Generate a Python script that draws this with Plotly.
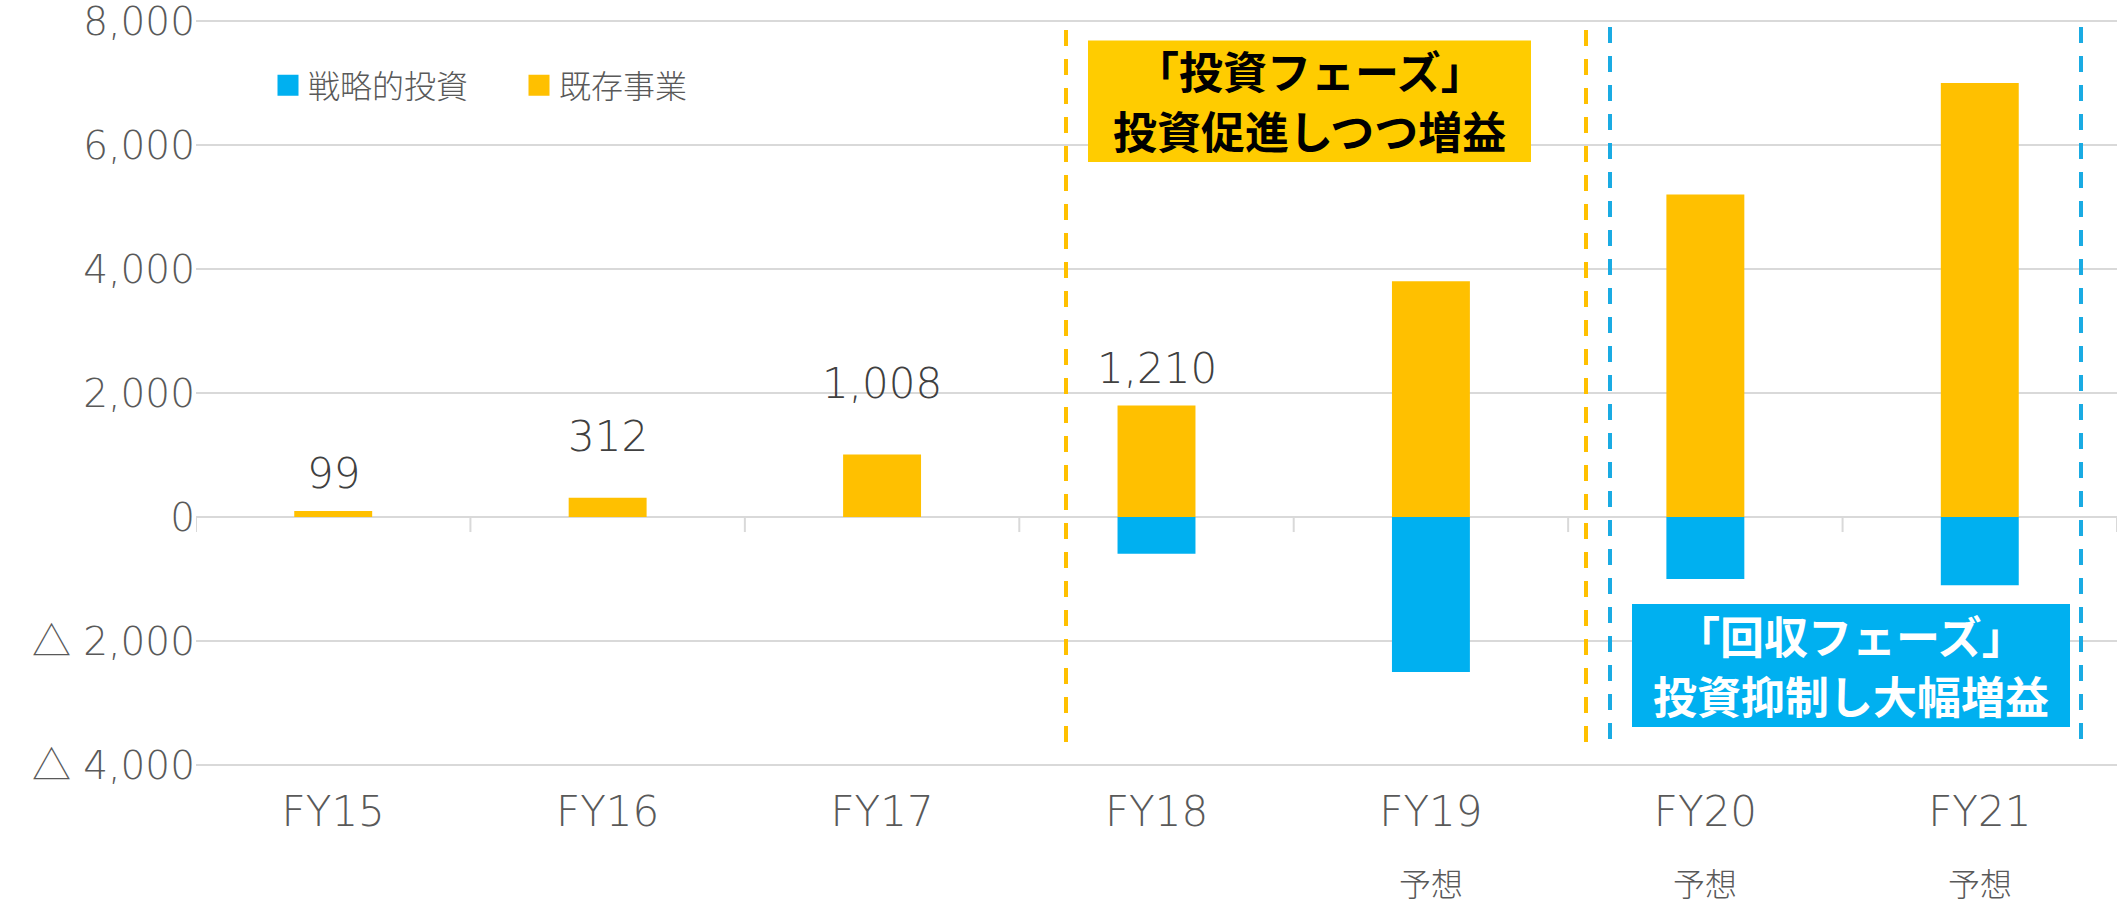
import plotly.graph_objects as go

# ---- data ----
categories = ["FY15", "FY16", "FY17", "FY18", "FY19", "FY20", "FY21"]
forecast_flags = ["", "", "", "", "予想", "予想", "予想"]
existing_business = [99, 312, 1008, 1800, 3800, 5200, 7000]      # 既存事業
strategic_investment = [0, 0, 0, -590, -2500, -1000, -1100]      # 戦略的投資
total_categories = ["FY15", "FY16", "FY17", "FY18"]
total_values = [99, 312, 1008, 1210]
total_texts = ["99", "312", "1,008", "1,210"]
y_tickvals = [-4000, -2000, 0, 2000, 4000, 6000, 8000]
y_ticktext = ["△ 4,000", "△ 2,000", "0", "2,000", "4,000", "6,000", "8,000"]
invest_phase_lines = ["「投資フェーズ」", "投資促進しつつ増益"]
recovery_phase_lines = ["「回収フェーズ」", "投資抑制し大幅増益"]

# ---- styling ----
W, H = 2119, 908
ML, MR, MT, MB = 196, 2, 19, 141
PW, PH = W - ML - MR, H - MT - MB
FONT = "DejaVu Sans, Noto Sans CJK JP"
CJK = "Noto Sans CJK JP"
ORANGE = "#FFC000"
BLUE = "#00B0F0"
BOX_YELLOW = "#FFCC00"
DASH_BLUE = "#1AABE3"
GRID = "#D9D9D9"
AXIS_TEXT = "#595959"
LABEL_TEXT = "#404040"
label_yshift = [37, 61, 71, 74]


def px_x(p):
    return (p - ML) / PW


def px_y(p):
    return (H - MB - p) / PH


fig = go.Figure()
fig.add_trace(go.Bar(
    name="戦略的投資", x=categories, y=strategic_investment, showlegend=False,
    legendgroup="inv", marker=dict(color=BLUE, line=dict(width=0)),
))
fig.add_trace(go.Bar(
    name="既存事業", x=categories, y=existing_business, showlegend=False,
    legendgroup="base", marker=dict(color=ORANGE, line=dict(width=0)),
))
# legend entries (larger square keys)
for nm, col, grp in [("戦略的投資", BLUE, "inv"), ("既存事業", ORANGE, "base")]:
    fig.add_trace(go.Scatter(
        name=nm, x=[None], y=[None], mode="markers", legendgroup=grp,
        marker=dict(symbol="square", size=16, color=col, line=dict(color=col, width=5)),
    ))

# total labels above bars
for c, v, t, s in zip(total_categories, total_values, total_texts, label_yshift):
    fig.add_annotation(x=c, y=v, xref="x", yref="y", text=t, showarrow=False,
                       yanchor="middle", yshift=s,
                       font=dict(family=FONT, size=42, color=LABEL_TEXT, weight=200))

# second line of category labels
for c, f in zip(categories, forecast_flags):
    if f:
        fig.add_annotation(x=c, y=px_y(906), xref="x", yref="paper", text=f, showarrow=False,
                           yanchor="bottom", borderpad=0,
                           font=dict(family=CJK, size=32, color=AXIS_TEXT, weight=300))

# category tick marks at the zero line
for i in range(len(categories) + 1):
    fig.add_shape(type="line", xref="x", yref="y", x0=i - 0.5, x1=i - 0.5,
                  ysizemode="pixel", yanchor=0, y0=0, y1=-15,
                  line=dict(color=GRID, width=2))

# dashed phase separators
for xp, y0p, y1p, col in [(1066, 30, 746, ORANGE), (1586, 30, 746, ORANGE),
                          (1610, 27, 743, DASH_BLUE), (2081, 27, 743, DASH_BLUE)]:
    fig.add_shape(type="line", xref="paper", yref="paper",
                  x0=px_x(xp), x1=px_x(xp), y0=px_y(y0p), y1=px_y(y1p),
                  line=dict(color=col, width=4, dash="16px,13px"))

# phase boxes
for (x0, x1, y0, y1, fill, lines, line_y, tcol) in [
    (1088, 1531, 40.5, 162, BOX_YELLOW, invest_phase_lines, [70, 130], "#000000"),
    (1632, 2070, 604, 727, BLUE, recovery_phase_lines, [635, 695], "#FFFFFF"),
]:
    fig.add_shape(type="rect", xref="paper", yref="paper",
                  x0=px_x(x0), x1=px_x(x1), y0=px_y(y1), y1=px_y(y0),
                  fillcolor=fill, line=dict(width=0), layer="above")
    for txt, ly in zip(lines, line_y):
        fig.add_annotation(xref="paper", yref="paper", x=px_x((x0 + x1) / 2), y=px_y(ly),
                           xanchor="center", yanchor="middle", showarrow=False, text=txt,
                           font=dict(family=CJK, size=44, color=tcol, weight="bold"))

fig.update_layout(
    width=W, height=H, autosize=False,
    margin=dict(l=ML, r=MR, t=MT, b=MB, autoexpand=False),
    paper_bgcolor="white", plot_bgcolor="white",
    barmode="relative", bargap=0.716,
    font=dict(family=FONT, color=AXIS_TEXT),
    legend=dict(orientation="h", x=px_x(268), y=px_y(58), xanchor="left", yanchor="top",
                font=dict(family=CJK, size=32, color=AXIS_TEXT, weight=300),
                bgcolor="rgba(0,0,0,0)", traceorder="normal",
                entrywidth=206, entrywidthmode="pixels"),
    xaxis=dict(type="category", range=[-0.5, len(categories) - 0.5], automargin=False,
               showgrid=False, showline=False, zeroline=False, ticks="",
               ticklabelstandoff=16,
               tickfont=dict(family=FONT, size=42, color=AXIS_TEXT, weight=200)),
    yaxis=dict(range=[-4030, 8030], tickmode="array", tickvals=y_tickvals, ticktext=y_ticktext,
               automargin=False,
               showgrid=True, gridcolor=GRID, gridwidth=1.5,
               zeroline=True, zerolinecolor=GRID, zerolinewidth=2,
               showline=False, ticks="", ticklabelstandoff=0, ticklabeloverflow="allow",
               tickfont=dict(family=FONT, size=39, color=AXIS_TEXT, weight=200)),
)

fig.write_html("out.html", config={"displayModeBar": False},
               post_script="document.body.style.margin='0';document.body.style.overflow='hidden';")
